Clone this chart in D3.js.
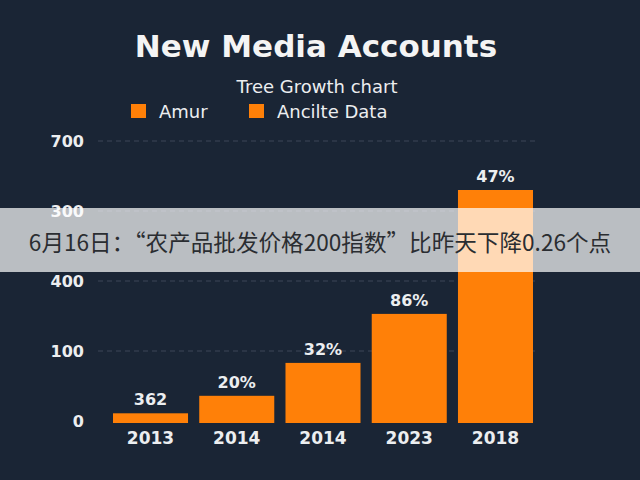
<!DOCTYPE html>
<html>
<head>
<meta charset="utf-8">
<script src="https://cdn.jsdelivr.net/npm/d3@7"></script>
<style>
	body { margin: 0; background: #1a2535; }
	svg { display: block; }
</style>
</head>
<body>
<svg width="640" height="480"></svg>
<script>
(function() {
	"use strict"

	// years under the bars (the 2014 really shows up twice)
	var years = ["2013", "2014", "2014", "2023", "2018"],
		values = [11, 36, 83, 153, 330],
		barLabels = ["362", "20%", "32%", "86%", "47%"],
		tickValues = [0, 100, 200, 300, 400],
		tickLabels = ["0", "100", "400", "300", "700"],
		legendNames = ["Amur", "Ancilte Data"],
		bannerText = "6月16日：“农产品批发价格200指数”比昨天下降0.26个点";

	var svg = d3.select("svg"),
		orange = "#ff8008",
		textColor = "#eceef0",
		font = "'DejaVu Sans', Verdana, sans-serif";

	var x = d3.scaleBand().domain(d3.range(years.length)).range([113, 533]).paddingInner(0.13).paddingOuter(0),
		y = d3.scaleLinear().domain([0, 400]).range([421, 141]);

	svg.append("rect")
		.attr("width", 640)
		.attr("height", 480)
		.attr("fill", "#1a2535");

	// title + subtitle
	svg.append("text")
		.attr("x", 316)
		.attr("y", 57)
		.attr("text-anchor", "middle")
		.style("font-family", font)
		.style("font-weight", "bold")
		.style("font-size", "31px")
		.style("fill", "#f4f4f4")
		.text("New Media Accounts");

	svg.append("text")
		.attr("x", 317)
		.attr("y", 93)
		.attr("text-anchor", "middle")
		.style("font-family", font)
		.style("font-size", "18px")
		.style("fill", textColor)
		.text("Tree Growth chart");

	var legend = svg.selectAll("g.legend")
		.data(legendNames)
		.enter()
		.append("g")
			.attr("class", "legend")
			.attr("transform", function(d, i) {
				return "translate(" + (131 + i * 118) + ",104)";
			});
	legend.append("rect")
		.attr("width", 15)
		.attr("height", 14)
		.attr("fill", orange);
	legend.append("text")
		.attr("x", 28)
		.attr("y", 14)
		.style("font-family", font)
		.style("font-size", "18px")
		.style("fill", textColor)
		.text(function(d) { return d; });

	// gridlines, not at zero
	svg.selectAll("line.grid")
		.data(tickValues.slice(1))
		.enter()
		.append("line")
			.attr("class", "grid")
			.attr("x1", 98)
			.attr("x2", 536)
			.attr("y1", function(d) { return y(d); })
			.attr("y2", function(d) { return y(d); })
			.style("stroke", "#3c4758")
			.style("stroke-width", 1)
			.style("stroke-dasharray", "5,4");

	var yAxis = svg.append("g")
		.attr("transform", "translate(84,0)")
		.call(d3.axisLeft(y).tickValues(tickValues).tickSize(0).tickPadding(0).tickFormat(function(d, i) {
			return tickLabels[i];
		}));
	yAxis.select(".domain").remove();
	yAxis.selectAll("text")
		.style("font-family", font)
		.style("font-weight", "bold")
		.style("font-size", "16px")
		.style("fill", textColor);

	svg.selectAll("rect.bar")
		.data(values)
		.enter()
		.append("rect")
			.attr("class", "bar")
			.attr("x", function(d, i) { return x(i); })
			.attr("y", function(d) { return y(d); })
			.attr("width", x.bandwidth())
			.attr("height", function(d) { return y(0) - y(d) + 2; })
			.attr("fill", orange);

	svg.selectAll("text.value")
		.data(values)
		.enter()
		.append("text")
			.attr("class", "value")
			.attr("x", function(d, i) { return x(i) + x.bandwidth() / 2; })
			.attr("y", function(d) { return y(d) - 8; })
			.attr("text-anchor", "middle")
			.style("font-family", font)
			.style("font-weight", "bold")
			.style("font-size", "16px")
			.style("fill", textColor)
			.text(function(d, i) { return barLabels[i]; });

	svg.selectAll("text.year")
		.data(years)
		.enter()
		.append("text")
			.attr("class", "year")
			.attr("x", function(d, i) { return x(i) + x.bandwidth() / 2; })
			.attr("y", 444)
			.attr("text-anchor", "middle")
			.style("font-family", font)
			.style("font-weight", "bold")
			.style("font-size", "17px")
			.style("fill", textColor)
			.text(function(d) { return d; });

	// caption strip laid over the chart
	svg.append("rect")
		.attr("x", 0)
		.attr("y", 208)
		.attr("width", 640)
		.attr("height", 64)
		.attr("fill", "#ffffff")
		.attr("fill-opacity", 0.7);

	svg.append("text")
		.attr("x", 320)
		.attr("y", 251)
		.attr("text-anchor", "middle")
		.style("font-family", "'Noto Sans CJK SC', sans-serif")
		.style("font-size", "22.6px")
		.style("fill", "#2a2d31")
		.text(bannerText);
})();
</script>
</body>
</html>
